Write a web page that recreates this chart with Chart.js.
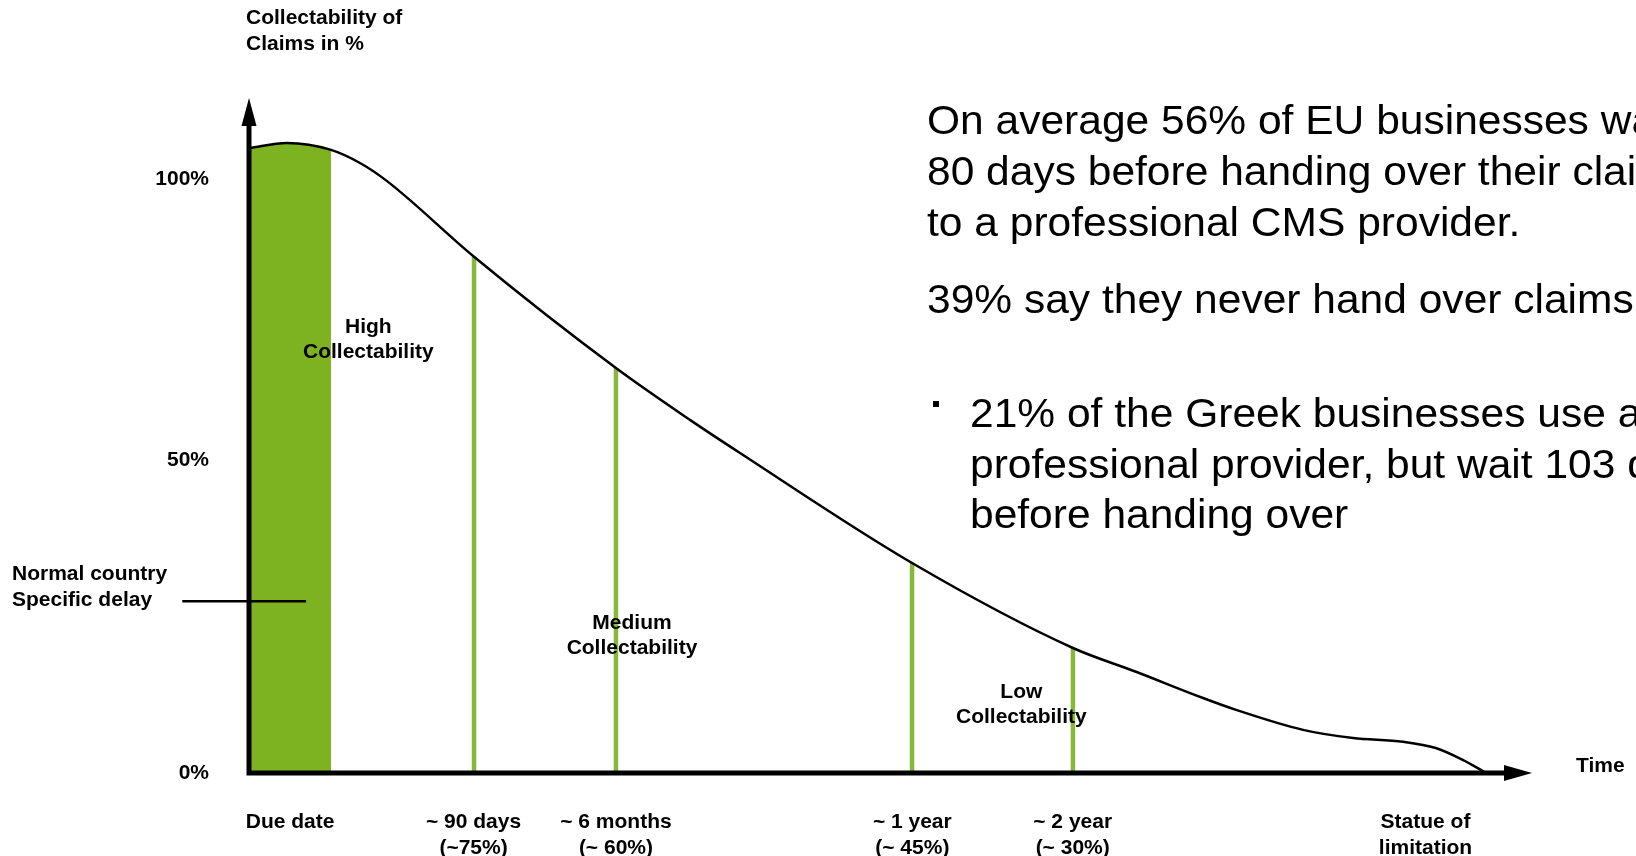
<!DOCTYPE html>
<html lang="en">
<head>
<meta charset="utf-8">
<title>Collectability of Claims</title>
<script src="https://cdn.jsdelivr.net/npm/chart.js@4.4.1/dist/chart.umd.min.js"></script>
<style>
    html, body { margin: 0; padding: 0; background: #fff; overflow: hidden; }
    canvas { display: block; }
</style>
</head>
<body>
<canvas id="claimsChart" width="1636" height="856"></canvas>
<script>
// Collectability curve (x = time units 0-100, y = % collectable)
const curveX = [0, 2.96, 6.39, 8.65, 10.76, 17.54, 28.6, 34.37, 38.27, 51.68, 64.22, 69.13, 74.36, 76.93, 82.15, 86.05, 89.95, 92.5, 94.6, 96.26];
const curveY = [100, 100.8, 99.7, 97.6, 94.7, 82.6, 64.8, 56.5, 51.2, 33.6, 20.0, 16.2, 12.0, 10.1, 6.9, 5.6, 5.0, 4.0, 2.1, 0.2];

// Normal country specific delay (green block ends here)
const delayEnd = 6.39;
const delayLineY = 27.5;

// Green marker lines
const markerX = [17.54, 28.6, 51.68, 64.22];
const markerTop = [82.6, 64.8, 33.6, 20.0];

// Time axis labels
const timeTickX = [3.2, 17.5, 28.6, 51.7, 64.2, 91.7];
const timeTickLabels = [
    ['Due date'],
    ['~ 90 days', '(~75%)'],
    ['~ 6 months', '(~ 60%)'],
    ['~ 1 year', '(~ 45%)'],
    ['~ 2 year', '(~ 30%)'],
    ['Statue of', 'limitation']
];

// Collectability axis labels
const pctTickY = [0, 50, 95];
const pctTickLabels = ['0%', '50%', '100%'];

// Zone labels
const zoneLabels = [['High', 'Collectability'], ['Medium', 'Collectability'], ['Low', 'Collectability']];
const zoneX = [9.3, 29.85, 60.2];
const zoneY = [69.4, 21.9, 11.0];

const FONT = '"Liberation Sans", Arial, Helvetica, sans-serif';
const GREEN = '#7db321';
const GREEN_LINE = '#86b83c';

Chart.defaults.font.family = FONT;

const curvePoints = curveX.map((x, i) => ({ x, y: curveY[i] }));
const delayPoints = curvePoints.filter(p => p.x <= delayEnd);

const markerSets = markerX.map((x, i) => ({
    data: [{ x, y: 0 }, { x, y: markerTop[i] }],
    borderColor: GREEN_LINE,
    borderWidth: 4.5,
    pointRadius: 0,
    tension: 0,
    fill: false
}));

// slide text is slightly wider than the plain font
function wideText(ctx, text, x, y) {
    ctx.save();
    ctx.translate(x, y);
    ctx.scale(1.05, 1);
    ctx.fillText(text, 0, 0);
    ctx.restore();
}

// Axes with arrows, texts and side notes
const annotations = {
    id: 'annotations',
    afterDatasetsDraw(chart) {
        const { ctx, scales: { x, y } } = chart;
        const x0 = x.getPixelForValue(0);
        const y0 = y.getPixelForValue(0);
        const xEnd = x.getPixelForValue(x.max);
        const yTop = y.getPixelForValue(y.max);

        ctx.save();
        ctx.strokeStyle = '#000';
        ctx.fillStyle = '#000';

        // axes
        ctx.lineWidth = 5;
        ctx.beginPath();
        ctx.moveTo(x0, y0 + 2.5);
        ctx.lineTo(x0, yTop + 20);
        ctx.moveTo(x0 - 2.5, y0);
        ctx.lineTo(xEnd - 20, y0);
        ctx.stroke();

        ctx.beginPath();
        ctx.moveTo(x0, yTop);
        ctx.lineTo(x0 - 7.5, yTop + 28);
        ctx.lineTo(x0 + 7.5, yTop + 28);
        ctx.closePath();
        ctx.fill();

        ctx.beginPath();
        ctx.moveTo(xEnd, y0);
        ctx.lineTo(xEnd - 28, y0 - 8);
        ctx.lineTo(xEnd - 28, y0 + 8);
        ctx.closePath();
        ctx.fill();

        // normal country delay pointer
        const dy = y.getPixelForValue(delayLineY);
        ctx.lineWidth = 2.5;
        ctx.beginPath();
        ctx.moveTo(x.getPixelForValue(-5.2), dy);
        ctx.lineTo(x.getPixelForValue(4.45), dy);
        ctx.stroke();

        // bold labels
        ctx.font = 'bold 21px ' + FONT;
        ctx.textBaseline = 'middle';
        ctx.textAlign = 'center';
        zoneLabels.forEach((lines, i) => {
            const cx = x.getPixelForValue(zoneX[i]);
            const cy = y.getPixelForValue(zoneY[i]);
            ctx.fillText(lines[0], cx, cy - 12.5);
            ctx.fillText(lines[1], cx, cy + 12.5);
        });

        ctx.textAlign = 'left';
        ctx.fillText('Collectability of', 246, 18);
        ctx.fillText('Claims in %', 246, 44);
        ctx.fillText('Normal country', 12, dy - 27);
        ctx.fillText('Specific delay', 12, dy - 1);
        ctx.fillText('Time', xEnd + 44, y0 - 7);

        // side notes
        ctx.font = '40.5px ' + FONT;
        ctx.textBaseline = 'alphabetic';
        wideText(ctx, 'On average 56% of EU businesses wait', 927, 134);
        wideText(ctx, '80 days before handing over their claims', 927, 185);
        wideText(ctx, 'to a professional CMS provider.', 927, 236);
        wideText(ctx, '39% say they never hand over claims', 927, 313);
        ctx.fillRect(933, 401, 6, 6);
        wideText(ctx, '21% of the Greek businesses use a', 970, 427);
        wideText(ctx, 'professional provider, but wait 103 days', 970, 478);
        wideText(ctx, 'before handing over', 970, 528);

        ctx.restore();
    }
};

const ctx = document.getElementById('claimsChart').getContext('2d');

new Chart(ctx, {
    type: 'line',
    data: {
        datasets: [
            {
                data: curvePoints,
                borderColor: '#000',
                borderWidth: 2.5,
                pointRadius: 0,
                fill: false,
                cubicInterpolationMode: 'monotone'
            },
            ...markerSets,
            {
                data: delayPoints,
                borderWidth: 0,
                borderColor: GREEN,
                backgroundColor: GREEN,
                pointRadius: 0,
                fill: 'origin',
                cubicInterpolationMode: 'monotone'
            }
        ]
    },
    options: {
        responsive: false,
        animation: false,
        events: [],
        layout: { padding: { left: 0, right: 104, top: 98, bottom: 0 } },
        plugins: {
            legend: { display: false },
            tooltip: { enabled: false }
        },
        scales: {
            x: {
                type: 'linear',
                min: 0,
                max: 100,
                grid: { display: false, drawTicks: false },
                border: { display: false },
                afterFit: scale => { scale.height = 83; },
                afterBuildTicks: scale => { scale.ticks = timeTickX.map(v => ({ value: v })); },
                ticks: {
                    autoSkip: false,
                    maxRotation: 0,
                    padding: 37,
                    color: '#000',
                    font: { size: 21, weight: 'bold', lineHeight: 1.2 },
                    callback: (value, index) => timeTickLabels[index]
                }
            },
            y: {
                min: 0,
                max: 108,
                grid: { display: false, drawTicks: false },
                border: { display: false },
                afterFit: scale => { scale.width = 249; },
                afterBuildTicks: scale => { scale.ticks = pctTickY.map(v => ({ value: v })); },
                ticks: {
                    padding: 40,
                    color: '#000',
                    font: { size: 21, weight: 'bold' },
                    callback: (value, index) => pctTickLabels[index]
                }
            }
        }
    },
    plugins: [annotations]
});
</script>
</body>
</html>
